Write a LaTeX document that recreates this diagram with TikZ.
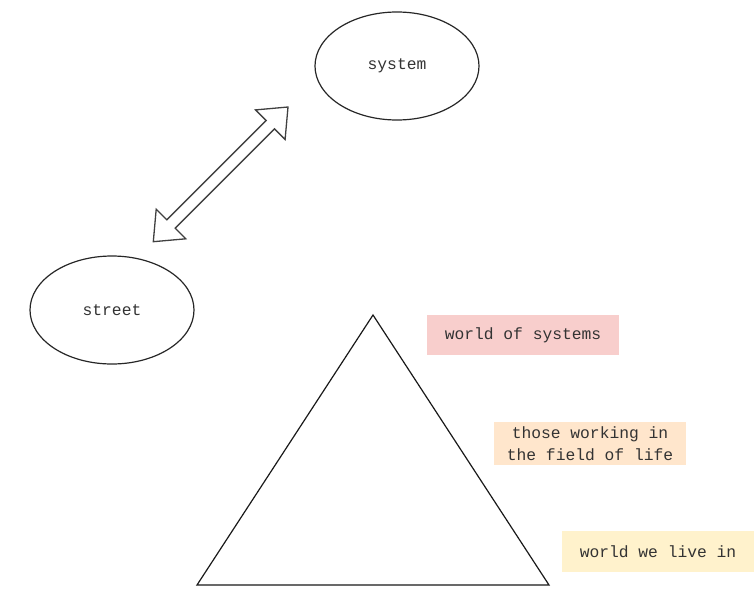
\documentclass[tikz,border=0pt]{standalone}
\usepackage{fontspec}
\setmonofont{Liberation Mono}
\usetikzlibrary{shapes.geometric}
\definecolor{txt}{HTML}{333333}
\definecolor{pinkfill}{HTML}{F8CECC}
\definecolor{orangefill}{HTML}{FFE6CC}
\definecolor{yellowfill}{HTML}{FFF2CC}
\tikzset{
  oval/.style={ellipse, draw=black!85, line width=1.2pt, minimum width=164pt, minimum height=108pt, inner sep=0pt, font=\ttfamily\fontsize{16.3}{19}\selectfont, text=txt},
  tag/.style={minimum width=192pt, inner sep=0pt, align=center, font=\ttfamily\fontsize{16.3}{21.5}\selectfont, text=txt},
  outline/.style={draw=black!75, line width=1.3pt, line join=miter}
}
\begin{document}
\begin{tikzpicture}[x=1pt,y=-1pt]
\useasboundingbox (0,0) rectangle (754,589);

% two ovals
\node[oval] (system) at (397,66) {system};
\node[oval] (street) at (112,310) {street};

% double-headed block arrow between them
\coordinate (lo) at (153.3,241.7);
\coordinate (hi) at (288.0,107.0);
\draw[outline] (lo) -- (185.8,238.8) -- (175.2,228.2) -- (274.5,128.9) -- (285.1,139.5)
  -- (hi) -- (255.5,109.9) -- (266.1,120.5) -- (166.8,219.8) -- (156.2,209.2) -- cycle;

% pyramid
\coordinate (apex) at (373,315);
\coordinate (bl) at (197,585);
\coordinate (br) at (549,585);
\draw[outline, draw=black!90, line width=1.2pt] (apex) -- (br) -- (bl) -- cycle;

% level labels
\node[tag, fill=pinkfill, minimum height=40pt] (top) at (523,335) {world of systems};
\node[tag, fill=orangefill, minimum height=43pt] (mid) at (590,443.5) {those working in\\the field of life};
\node[tag, fill=yellowfill, minimum height=41pt] (base) at (658,551.5) {world we live in};
\end{tikzpicture}
\end{document}
